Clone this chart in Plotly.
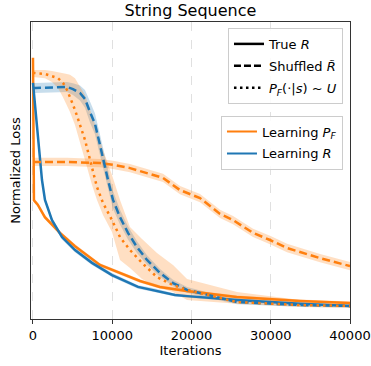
import plotly.graph_objects as go

ORANGE = "#ff7f0e"
BLUE = "#1f77b4"

# ---- data (normalized loss vs iterations) ----
pf_true_x = [0, 120, 600, 1500, 3400, 5300, 8450, 11000, 13500, 16000, 19400, 25700, 33700, 40000]
pf_true_y = [0.88, 0.40, 0.385, 0.343, 0.29, 0.245, 0.182, 0.155, 0.128, 0.108, 0.094, 0.074, 0.061, 0.054]
pf_true_hw = [0.012, 0.008, 0.007, 0.007, 0.007, 0.007, 0.006, 0.006, 0.006, 0.006, 0.005, 0.005, 0.005, 0.005]

r_true_x = [0, 631, 1136, 1514, 2398, 3660, 5300, 7445, 9970, 13251, 15144, 17920, 19435, 25745, 33695, 40000]
r_true_y = [0.795, 0.603, 0.468, 0.401, 0.333, 0.276, 0.232, 0.189, 0.148, 0.108, 0.098, 0.081, 0.077, 0.064, 0.051, 0.044]
r_true_hw = [0.01, 0.01, 0.009, 0.008, 0.008, 0.008, 0.007, 0.007, 0.007, 0.006, 0.006, 0.005, 0.005, 0.005, 0.004, 0.004]

r_shuf_x = [0, 252, 4290, 5047, 5931, 6562, 7192, 7823, 8454, 8960, 9465, 10095, 10979, 11987,
            13125, 14387, 16027, 17668, 19435, 25745, 33695, 40000]
r_shuf_y = [0.778, 0.778, 0.781, 0.774, 0.761, 0.741, 0.697, 0.657, 0.586, 0.525, 0.468, 0.401, 0.343, 0.290,
            0.242, 0.199, 0.155, 0.121, 0.098, 0.057, 0.047, 0.044]
r_shuf_hw = [0.017, 0.017, 0.017, 0.02, 0.025, 0.03, 0.035, 0.035, 0.035, 0.035, 0.03, 0.03, 0.025, 0.022,
             0.02, 0.016, 0.013, 0.011, 0.01, 0.007, 0.006, 0.005]

pf_shuf_x = [0, 4290, 8454, 10095, 12240, 14387, 16406, 18551, 21075, 23599, 25240, 27764, 29910, 32055, 36219, 40000]
pf_shuf_y = [0.529, 0.529, 0.525, 0.519, 0.508, 0.492, 0.475, 0.434, 0.407, 0.354, 0.333, 0.290, 0.266, 0.239, 0.205, 0.178]
pf_shuf_hw = [0.014] * 16

pf_unif_x = [0, 252, 1514, 2398, 3155, 3786, 4290, 4669, 5300, 6562, 7445, 8076, 8833, 9970, 10979,
             12240, 13755, 15648, 17668, 19435, 25745, 33695, 40000]
pf_unif_y = [0.828, 0.828, 0.825, 0.818, 0.811, 0.795, 0.771, 0.747, 0.704, 0.603, 0.512, 0.444, 0.391, 0.333, 0.276,
             0.232, 0.189, 0.141, 0.114, 0.098, 0.057, 0.047, 0.044]
pf_unif_up = [0.838, 0.838, 0.838, 0.835, 0.832, 0.828, 0.825, 0.822, 0.811, 0.754, 0.687, 0.636, 0.569, 0.485, 0.401,
              0.310, 0.269, 0.222, 0.182, 0.135, 0.091, 0.064, 0.057]
pf_unif_lo = [0.815, 0.815, 0.811, 0.798, 0.778, 0.747, 0.721, 0.697, 0.653, 0.535, 0.451, 0.401, 0.350, 0.293, 0.199,
              0.172, 0.135, 0.108, 0.091, 0.064, 0.051, 0.040, 0.037]

x_ticks = [0, 10000, 20000, 30000, 40000]

fig = go.Figure()


def band(x, lo, up, color):
    fig.add_trace(go.Scatter(
        x=list(x) + list(x)[::-1], y=list(up) + list(lo)[::-1],
        fill="toself", fillcolor=color, line=dict(width=0), mode="lines",
        hoverinfo="skip", showlegend=False))


def hw_band(x, y, hw, color):
    band(x, [a - b for a, b in zip(y, hw)], [a + b for a, b in zip(y, hw)], color)


OB = "rgba(255,127,14,0.25)"
BB = "rgba(31,119,180,0.25)"

hw_band(pf_true_x, pf_true_y, pf_true_hw, OB)
hw_band(r_true_x, r_true_y, r_true_hw, BB)
hw_band(pf_shuf_x, pf_shuf_y, pf_shuf_hw, OB)
hw_band(r_shuf_x, r_shuf_y, r_shuf_hw, BB)
band(pf_unif_x, pf_unif_lo, pf_unif_up, OB)

LW = 2.5
fig.add_trace(go.Scatter(x=pf_true_x, y=pf_true_y, mode="lines", line=dict(color=ORANGE, width=LW), showlegend=False))
fig.add_trace(go.Scatter(x=r_true_x, y=r_true_y, mode="lines", line=dict(color=BLUE, width=LW), showlegend=False))
fig.add_trace(go.Scatter(x=pf_shuf_x, y=pf_shuf_y, mode="lines", line=dict(color=ORANGE, width=LW, dash="8px,4px"), showlegend=False))
fig.add_trace(go.Scatter(x=r_shuf_x, y=r_shuf_y, mode="lines", line=dict(color=BLUE, width=LW, dash="8px,4px"), showlegend=False))
fig.add_trace(go.Scatter(x=pf_unif_x, y=pf_unif_y, mode="lines", line=dict(color=ORANGE, width=LW, dash="2.5px,4px"), showlegend=False))

# legend 1: line styles
styles = [("True <i>R</i>", "solid"),
          ("Shuffled <i>R̃</i>", "7px,3px"),
          ("<i>P<sub>F</sub></i>(·|<i>s</i>) ~ <i>U</i>", "2.5px,3.5px")]
for i, (name, d) in enumerate(styles):
    fig.add_trace(go.Scatter(x=[None], y=[None], mode="lines", name=name,
                             line=dict(color="black", width=2.5, dash=d),
                             legend="legend", legendgroup=f"s{i}"))
# legend 2: colours
for i, (name, c) in enumerate([("Learning <i>P<sub>F</sub></i>", ORANGE), ("Learning <i>R</i>", BLUE)]):
    fig.add_trace(go.Scatter(x=[None], y=[None], mode="lines", name=name,
                             line=dict(color=c, width=2),
                             legend="legend2", legendgroup=f"c{i}"))

FONT = "DejaVu Sans"
leg_common = dict(bgcolor="rgba(255,255,255,0.85)", bordercolor="#cccccc", borderwidth=1,
                  font=dict(family=FONT, size=13, color="#000"), xanchor="right", yanchor="top",
                  tracegroupgap=2)

fig.update_layout(
    width=371, height=366,
    margin=dict(l=31, r=21, t=22, b=47, autoexpand=False),
    paper_bgcolor="white", plot_bgcolor="white",
    font=dict(family=FONT, size=13, color="#000"),
    title=dict(text="String Sequence", x=0.5, xref="paper", xanchor="center",
               y=1 - 10 / 366, yref="container", yanchor="middle",
               font=dict(family=FONT, size=16, color="#000")),
    legend=dict(x=0.978, y=0.98, **leg_common),
    legend2=dict(x=0.978, y=0.685, **leg_common),
    xaxis=dict(range=[-250, 40000], tickvals=x_ticks, ticktext=[str(v) for v in x_ticks],
               ticks="outside", ticklen=4, tickwidth=1, tickcolor="#333",
               showline=True, linecolor="#333", linewidth=1.3, mirror=True,
               showgrid=True, gridcolor="#e0e0e0", griddash="dash", gridwidth=1,
               zeroline=False, tickfont=dict(size=13), automargin=False,
               title=dict(text="Iterations", font=dict(size=13), standoff=2)),
    yaxis=dict(range=[0, 1], showticklabels=False, ticks="", showgrid=False, zeroline=False,
               showline=True, linecolor="#333", linewidth=1.3, mirror=True, automargin=False,
               title=dict(text="Normalized Loss", font=dict(size=13), standoff=6)),
)

fig.write_html("out.html")
